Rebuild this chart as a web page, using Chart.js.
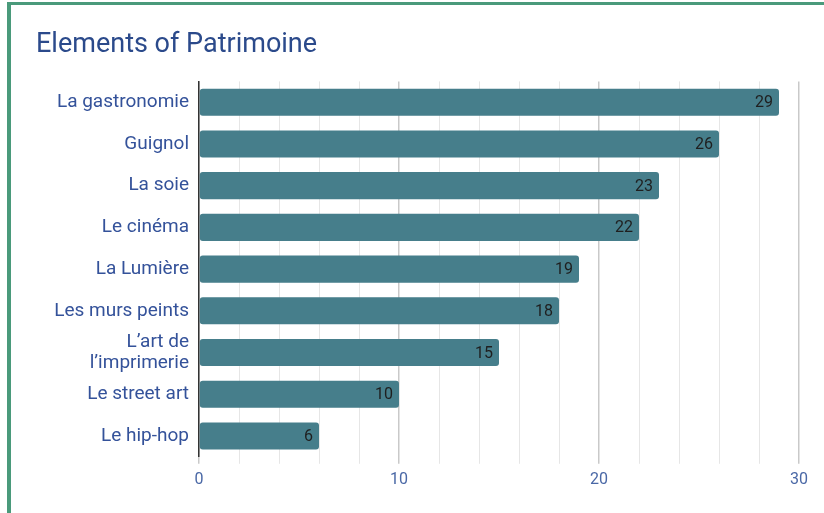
<!DOCTYPE html>
<html>
<head>
<meta charset="utf-8">
<script src="https://cdn.jsdelivr.net/npm/chart.js@4"></script>
<style>
  html, body { margin: 0; padding: 0; background: #fff; }
  #frame {
    position: absolute; left: 7px; top: 2px; right: 0; bottom: 0;
    border-top: 3px solid #4a9a7b; border-left: 4px solid #4a9a7b;
  }
  #chart { position: absolute; left: 0; top: 0; }
</style>
</head>
<body>
<div id="frame"></div>
<canvas id="chart" width="824" height="513"></canvas>
<script>
/* ── Elements of Patrimoine ─────────────────────── */

const CATEGORIES = [
  "La gastronomie",
  "Guignol",
  "La soie",
  "Le cinéma",
  "La Lumière",
  "Les murs peints",
  ["L’art de", "l’imprimerie"],
  "Le street art",
  "Le hip-hop",
];
const VALUES = [29, 26, 23, 22, 19, 18, 15, 10, 6];
const X_MIN = 0;
const X_MAX = 30;
const X_LABELED = [0, 10, 20, 30];

const FONT = "Roboto, 'Noto Sans', sans-serif";
const BAR_COLOR = "#467e8b";

const barLabels = {
  id: "barLabels",
  afterDatasetsDraw(chart) {
    const ctx = chart.ctx;
    const meta = chart.getDatasetMeta(0);
    ctx.save();
    ctx.font = `16px ${FONT}`;
    ctx.fillStyle = "#1f1f1f";
    ctx.textAlign = "right";
    ctx.textBaseline = "middle";
    meta.data.forEach((bar, i) => {
      ctx.fillText(String(VALUES[i]), bar.x - 6, bar.y + 1);
    });
    ctx.restore();
  },
};

new Chart(document.getElementById("chart"), {
  type: "bar",
  data: {
    labels: CATEGORIES,
    datasets: [
      {
        data: VALUES,
        backgroundColor: BAR_COLOR,
        borderWidth: 0,
        borderRadius: 3,
        borderSkipped: false,
        barPercentage: 0.65,
        categoryPercentage: 1,
      },
    ],
  },
  options: {
    indexAxis: "y",
    responsive: false,
    animation: false,
    devicePixelRatio: 1,
    layout: { padding: { left: 36, right: 25, top: 0, bottom: 16 } },
    plugins: {
      legend: { display: false },
      tooltip: { enabled: false },
      title: {
        display: true,
        text: "Elements of Patrimoine",
        align: "start",
        color: "#2b4a8b",
        font: { family: FONT, size: 27, weight: "normal", lineHeight: 1.2 },
        padding: { top: 29, bottom: 20 },
      },
    },
    scales: {
      x: {
        min: X_MIN,
        max: X_MAX,
        ticks: {
          stepSize: 2,
          autoSkip: false,
          maxRotation: 0,
          padding: 7,
          color: "#4a68a6",
          font: { family: FONT, size: 16 },
          callback: (v) => (X_LABELED.includes(v) ? String(v) : ""),
        },
        grid: {
          drawTicks: true,
          tickLength: 7,
          color: (c) => (c.tick && c.tick.value % 10 === 0 ? "#c9c9c9" : "#e6e6e6"),
          tickColor: (c) => (c.tick && c.tick.value % 10 === 0 ? "#c9c9c9" : "#e6e6e6"),
          lineWidth: (c) => (c.tick && c.tick.value % 10 === 0 ? 1.5 : 1),
        },
        border: { display: false },
      },
      y: {
        afterFit: (scale) => {
          scale.width = 163;
        },
        ticks: {
          autoSkip: false,
          padding: 10,
          color: "#34529a",
          font: { family: FONT, size: 19, lineHeight: 1.1 },
        },
        grid: { display: false, drawTicks: false },
        border: { display: true, color: "#333333", width: 1.5 },
      },
    },
  },
  plugins: [barLabels],
});
</script>
</body>
</html>
